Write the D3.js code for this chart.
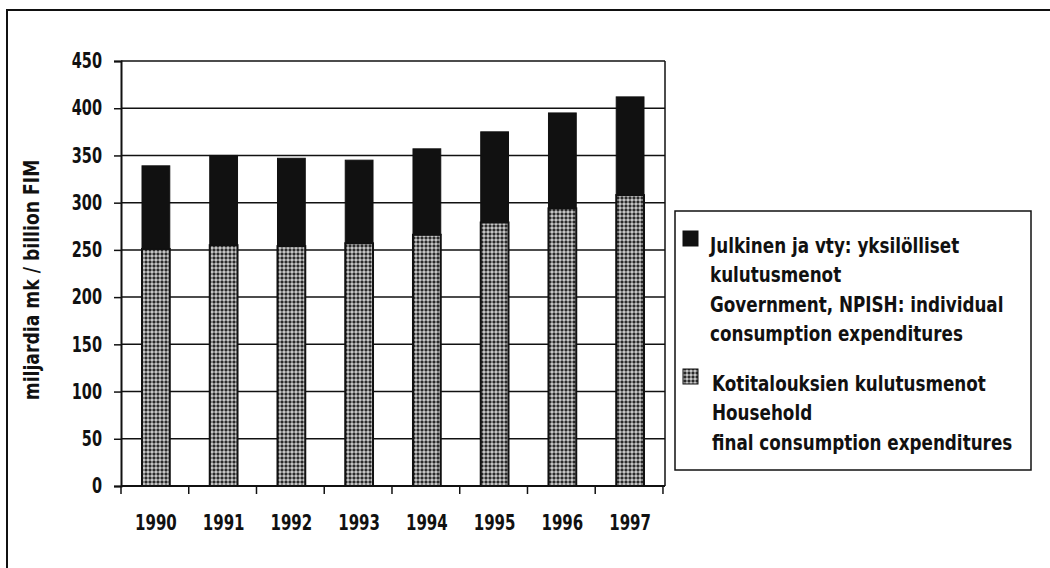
<!DOCTYPE html>
<head>
  <meta charset="utf-8">
  <title>Consumption expenditures 1990-1997</title>
  <style>
    body { margin: 0; background: #fff; }
    text { font-family: "DejaVu Sans", sans-serif; font-weight: bold; fill: #111; }
  </style>
</head>
<body>
<script src="https://d3js.org/d3.v7.min.js"></script>
<script>
// Values (billion FIM)
var years = ["1990", "1991", "1992", "1993", "1994", "1995", "1996", "1997"];
var household = [251, 255, 254, 257, 266, 279, 294, 308];
var government = [88, 95, 93, 88, 91, 96, 101, 104];
var yTicks = [0, 50, 100, 150, 200, 250, 300, 350, 400, 450];
var legendLabels = [
  ["Julkinen ja vty: yksilölliset", "kulutusmenot", "Government, NPISH: individual", "consumption expenditures"],
  ["Kotitalouksien kulutusmenot", "Household", "final consumption expenditures"]
];

var W = 1050, H = 568;
var margin = {top: 61, right: 385, bottom: 82, left: 121},
    width = W - margin.left - margin.right,
    height = H - margin.top - margin.bottom;

// squeeze a text node sideways so it looks like a condensed face
function condense(sel, k) {
  sel.each(function() {
    var len = this.getComputedTextLength();
    d3.select(this)
        .attr("textLength", len * k)
        .attr("lengthAdjust", "spacingAndGlyphs");
  });
}

var svg = d3.select("body").append("svg")
    .attr("width", W)
    .attr("height", H);

// halftone-ish fill for the household segment
var defs = svg.append("defs");
var pat = defs.append("pattern")
    .attr("id", "grain")
    .attr("patternUnits", "userSpaceOnUse")
    .attr("width", 4).attr("height", 4);
pat.append("rect").attr("width", 4).attr("height", 4).attr("fill", "#808080");
pat.append("rect").attr("x", 0).attr("y", 0).attr("width", 2).attr("height", 2).attr("fill", "#2a2a2a");
pat.append("rect").attr("x", 2).attr("y", 2).attr("width", 2).attr("height", 2).attr("fill", "#c4c4c4");

// outer frame (only top and left edges show)
svg.append("path")
    .attr("d", "M7,568V10H1050")
    .attr("fill", "none")
    .attr("stroke", "#111")
    .attr("stroke-width", 2);

var g = svg.append("g")
    .attr("transform", "translate(" + margin.left + "," + margin.top + ")");

var x = d3.scaleBand().domain(years).range([0, width]).paddingInner(0.59).paddingOuter(0.31);
var y = d3.scaleLinear().domain([0, 450]).range([height, 0]);

// gridlines
g.selectAll(".grid")
    .data(yTicks)
  .enter().append("line")
    .attr("x1", 0).attr("x2", width)
    .attr("y1", d => y(d)).attr("y2", d => y(d))
    .attr("stroke", "#111")
    .attr("stroke-width", 1.5);

// right edge of the plot area
g.append("line")
    .attr("x1", width).attr("x2", width)
    .attr("y1", 0).attr("y2", height)
    .attr("stroke", "#111").attr("stroke-width", 1.5);

// bars
var bars = g.selectAll(".bar").data(years).enter().append("g");
bars.append("rect")
    .attr("x", d => x(d))
    .attr("width", x.bandwidth())
    .attr("y", (d, i) => y(household[i]))
    .attr("height", (d, i) => y(0) - y(household[i]))
    .attr("fill", "url(#grain)")
    .attr("stroke", "#111")
    .attr("stroke-width", 2);
bars.append("rect")
    .attr("x", d => x(d))
    .attr("width", x.bandwidth())
    .attr("y", (d, i) => y(household[i] + government[i]))
    .attr("height", (d, i) => y(household[i]) - y(household[i] + government[i]))
    .attr("fill", "#111")
    .attr("stroke", "#111")
    .attr("stroke-width", 1);

// y axis
var yAxis = g.append("g")
    .call(d3.axisLeft(y).tickValues(yTicks).tickSize(7).tickPadding(12));
yAxis.select(".domain").attr("stroke", "#111").attr("stroke-width", 2);
yAxis.selectAll(".tick line").attr("stroke", "#111").attr("stroke-width", 1.5);
yAxis.selectAll("text")
    .attr("fill", "#111")
    .style("font-size", "21px")
    .style("font-family", "'DejaVu Sans', sans-serif")
    .call(condense, 0.69);

// x axis: ticks at category boundaries
var xAxis = g.append("g").attr("transform", "translate(0," + height + ")");
xAxis.append("line")
    .attr("x1", 0).attr("x2", width)
    .attr("stroke", "#111").attr("stroke-width", 2);
var step = x.step();
xAxis.selectAll(".xt")
    .data(d3.range(years.length + 1))
  .enter().append("line")
    .attr("x1", d => d * step).attr("x2", d => d * step)
    .attr("y1", 0).attr("y2", 8)
    .attr("stroke", "#111").attr("stroke-width", 1.5);
xAxis.selectAll(".xl")
    .data(years)
  .enter().append("text")
    .attr("x", d => x(d) + x.bandwidth() / 2)
    .attr("y", 44)
    .attr("text-anchor", "middle")
    .style("font-size", "21px")
    .text(d => d)
    .call(condense, 0.715);

// y axis title
svg.append("text")
    .attr("transform", "translate(39,280) rotate(-90)")
    .attr("text-anchor", "middle")
    .style("font-size", "21px")
    .text("miljardia mk / billion FIM")
    .call(condense, 0.82);

// legend
var lg = svg.append("g");
lg.append("rect")
    .attr("x", 675).attr("y", 211)
    .attr("width", 356).attr("height", 259)
    .attr("fill", "#fff")
    .attr("stroke", "#111").attr("stroke-width", 1.5);

var lineH = 29.5;
var entryTop = [245, 383];
var fills = ["#111", "url(#grain)"];
legendLabels.forEach(function(lines, k) {
  lg.append("rect")
      .attr("x", 683).attr("y", entryTop[k] - 14)
      .attr("width", 15).attr("height", 15)
      .attr("fill", fills[k])
      .attr("stroke", "#111").attr("stroke-width", 1);
  lines.forEach(function(t, j) {
    var tx = k === 0 ? 710 : 712;
    // scaled with a transform so the box it reports is the drawn one
    lg.append("text")
        .attr("transform", "translate(" + tx + "," + (entryTop[k] + j * lineH) + ") scale(0.8,1)")
        .attr("dy", "0.36em")
        .style("font-size", "21px")
        .text(t);
  });
});
</script>
</body>
